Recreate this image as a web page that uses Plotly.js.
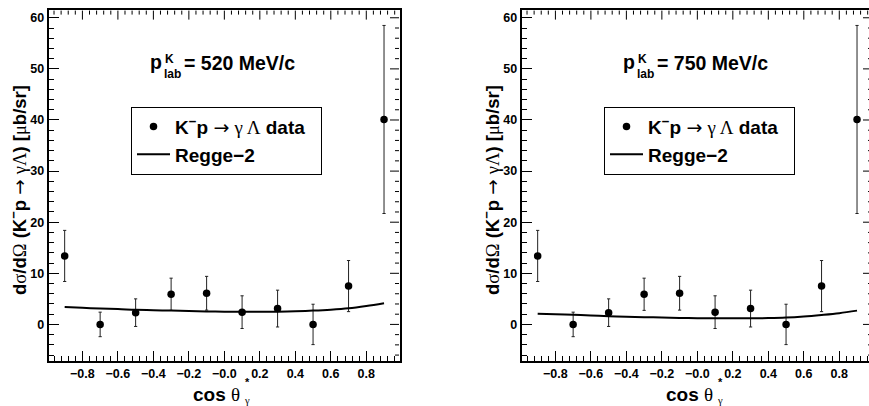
<!DOCTYPE html>
<html><head><meta charset="utf-8">
<script src="https://cdn.plot.ly/plotly-3.0.1.min.js"></script>
<style>html,body{margin:0;padding:0;overflow:hidden;background:#fff}</style>
</head><body><div id="chart" style="width:880px;height:406px"></div>
<script>
// ---- data ----
const cosTheta   = [-0.9, -0.7, -0.5, -0.3, -0.1, 0.1, 0.3, 0.5, 0.7, 0.9];
const dataValues = [13.4, 0.0, 2.3, 5.9, 6.1, 2.4, 3.1, 0.0, 7.5, 40.1];
const dataErrors = [5.0, 2.4, 2.7, 3.15, 3.3, 3.2, 3.6, 3.95, 5.0, 18.4];
const reggeX   = [-0.9,-0.8,-0.7,-0.6,-0.5,-0.4,-0.3,-0.2,-0.1,0.0,0.1,0.2,0.3,0.4,0.5,0.6,0.7,0.8,0.9];
const regge520 = [3.4,3.25,3.1,3.0,2.85,2.78,2.7,2.62,2.55,2.5,2.47,2.46,2.5,2.58,2.7,2.88,3.15,3.6,4.15];
const regge750 = [2.1,2.0,1.9,1.75,1.6,1.5,1.42,1.34,1.27,1.22,1.2,1.2,1.2,1.24,1.34,1.55,1.85,2.2,2.7];
const momenta  = ["520 MeV/c", "750 MeV/c"];
const xTickVals = [-0.8,-0.6,-0.4,-0.2,0,0.2,0.4,0.6,0.8];
const xTickText = ["\u22120.8","\u22120.6","\u22120.4","\u22120.2","\u22120.0","0.2","0.4","0.6","0.8"];
const yTickVals = [0,10,20,30,40,50,60];

const SERIF = "font-family:Liberation Serif;font-weight:normal";
const ARROW = "font-family:DejaVu Sans;font-weight:normal";
const dataName  = "K<sup>\u2212</sup>p <span style='" + ARROW + "'>\u2192</span> <span style='" + SERIF + "'>\u03b3 \u039b</span> data\u00a0\u00a0";
const reggeName = "Regge\u22122";

// ---- layout geometry (pixels) ----
const W = 880, H = 406;
const plotL = [48.7, 521.7], plotW = 351.3;
const plotT = 9.6, plotB = 360.7, plotH = plotB - plotT;
const FONT = "Liberation Sans, Arial, sans-serif";
const XR = [-0.99, 0.99], YR = [-7.1, 61.6];
const MAJ = 10, MIN = 5;

// minor tick positions for the mirrored (top / right) tick marks
const xMinor = [], yMinor = [];
for (let k = -24; k <= 24; k++) { const v = k * 0.04; if (k % 5 !== 0 && v > XR[0] && v < XR[1]) xMinor.push(+v.toFixed(2)); }
for (let k = -3; k <= 30; k++) { const v = k * 2; if (k % 5 !== 0 && v > YR[0] && v < YR[1]) yMinor.push(v); }

const curves = [regge520, regge750];
const traces = [];
const layout = {
  width: W, height: H, margin: {l:0, r:0, t:0, b:0},
  paper_bgcolor: "#fff", plot_bgcolor: "#fff",
  font: {family: FONT, color: "#000"},
  showlegend: true, annotations: [], shapes: []
};
const tickFont = {family: FONT, size: 12.5, weight: "bold", color: "#000"};
function axisBase(range, minorStep) {
  return {
    range: range, ticks: "inside", ticklen: MAJ, tickwidth: 1, tickcolor: "#000",
    minor: {tick0: 0, dtick: minorStep, ticks: "inside", ticklen: MIN, tickwidth: 1, tickcolor: "#000"},
    showline: true, linewidth: 2, linecolor: "#000", mirror: true,
    showgrid: false, zeroline: false, tickfont: tickFont, fixedrange: true
  };
}

for (let i = 0; i < 2; i++) {
  const sx = i === 0 ? "" : "2";
  const xa = "x" + sx, ya = "y" + sx;
  const lg = i === 0 ? "legend" : "legend2";
  traces.push({
    x: cosTheta, y: dataValues, xaxis: xa, yaxis: ya, type: "scatter", mode: "markers",
    name: dataName, legend: lg,
    marker: {color: "#000", size: 7.5, symbol: "circle"},
    error_y: {type: "data", array: dataErrors, visible: true, color: "#222", thickness: 1, width: 1.6}
  });
  traces.push({
    x: reggeX, y: curves[i], xaxis: xa, yaxis: ya, type: "scatter", mode: "lines",
    name: reggeName, legend: lg,
    line: {color: "#000", width: 2, shape: "spline"}
  });

  layout["xaxis" + sx] = Object.assign(axisBase(XR, 0.04), {
    domain: [plotL[i] / W, (plotL[i] + plotW) / W], anchor: ya,
    tickmode: "array", tickvals: xTickVals, ticktext: xTickText
  });
  layout["yaxis" + sx] = Object.assign(axisBase(YR, 2), {
    domain: [(H - plotB) / H, (H - plotT) / H], anchor: xa,
    tickmode: "array", tickvals: yTickVals
  });

  // mirrored tick marks on the top and right frame edges (placed via the axes' scales)
  const tick = (o) => Object.assign({type: "line", line: {color: "#000", width: 1}, layer: "above"}, o);
  const topY = (H - plotT - 1) / H;
  const rightX = (plotL[i] + plotW - 1) / W;
  xTickVals.forEach(v => layout.shapes.push(tick({xref: xa, yref: "paper", x0: v, x1: v, y0: topY, y1: topY - (MAJ - 1) / H})));
  xMinor.forEach(v => layout.shapes.push(tick({xref: xa, yref: "paper", x0: v, x1: v, y0: topY, y1: topY - (MIN - 1) / H})));
  yTickVals.forEach(v => layout.shapes.push(tick({xref: "paper", yref: ya, x0: rightX, x1: rightX - (MAJ - 1) / W, y0: v, y1: v})));
  yMinor.forEach(v => layout.shapes.push(tick({xref: "paper", yref: ya, x0: rightX, x1: rightX - (MIN - 1) / W, y0: v, y1: v})));

  layout[lg] = {
    x: (plotL[i] + 82.3) / W, y: (H - 106.7) / H, xanchor: "left", yanchor: "top",
    bordercolor: "#000", borderwidth: 1, bgcolor: "#fff",
    font: {family: FONT, size: 19, weight: "bold", color: "#000"},
    tracegroupgap: 0, itemwidth: 33
  };
  const xd = xa + " domain", yd = ya + " domain";
  const rx = px => (px - 48.7) / plotW;
  const ry = py => (plotB - py) / plotH;
  const A = (text, x, y, size, xanchor) => ({
    text, xref: xd, yref: yd, x, y, showarrow: false, xanchor, yanchor: "middle",
    font: {family: FONT, size, weight: "bold", color: "#000"}
  });
  layout.annotations.push(A("p", rx(164), ry(62), 19.5, "right"));
  layout.annotations.push(A("K", rx(162.5), ry(59), 12, "left"));
  layout.annotations.push(A("lab", rx(162), ry(74), 12, "left"));
  layout.annotations.push(A("= " + momenta[i], rx(182), ry(63), 19.5, "left"));
  // x-axis title
  layout.annotations.push(A("cos <span style='" + SERIF + "'>\u03b8</span>", rx(242), ry(394), 19, "right"));
  layout.annotations.push(A("<span style='" + SERIF + "'>\u03b3</span>", rx(241.5), ry(400), 10.5, "left"));
  layout.annotations.push(A("*", rx(243), ry(381.5), 11, "left"));
  // y-axis title
  layout.annotations.push({
    text: "d<span style='" + SERIF + "'>\u03c3</span>/d<span style='" + SERIF + "'>\u03a9</span> (K<sup>\u2212</sup>p <span style='" + ARROW + "'>\u2192</span> <span style='" + SERIF + "'>\u03b3\u039b</span>) [<span style='" + SERIF + "'>\u03bc</span>b/sr]",
    xref: "paper", yref: "paper", x: (plotL[i] - 30.7) / W, y: (H - 190) / H,
    showarrow: false, textangle: -90, xanchor: "center", yanchor: "middle",
    font: {family: FONT, size: 18.5, weight: "bold", color: "#000"}
  });
}

Plotly.newPlot("chart", traces, layout, {staticPlot: true, displayModeBar: false});
</script></body></html>
